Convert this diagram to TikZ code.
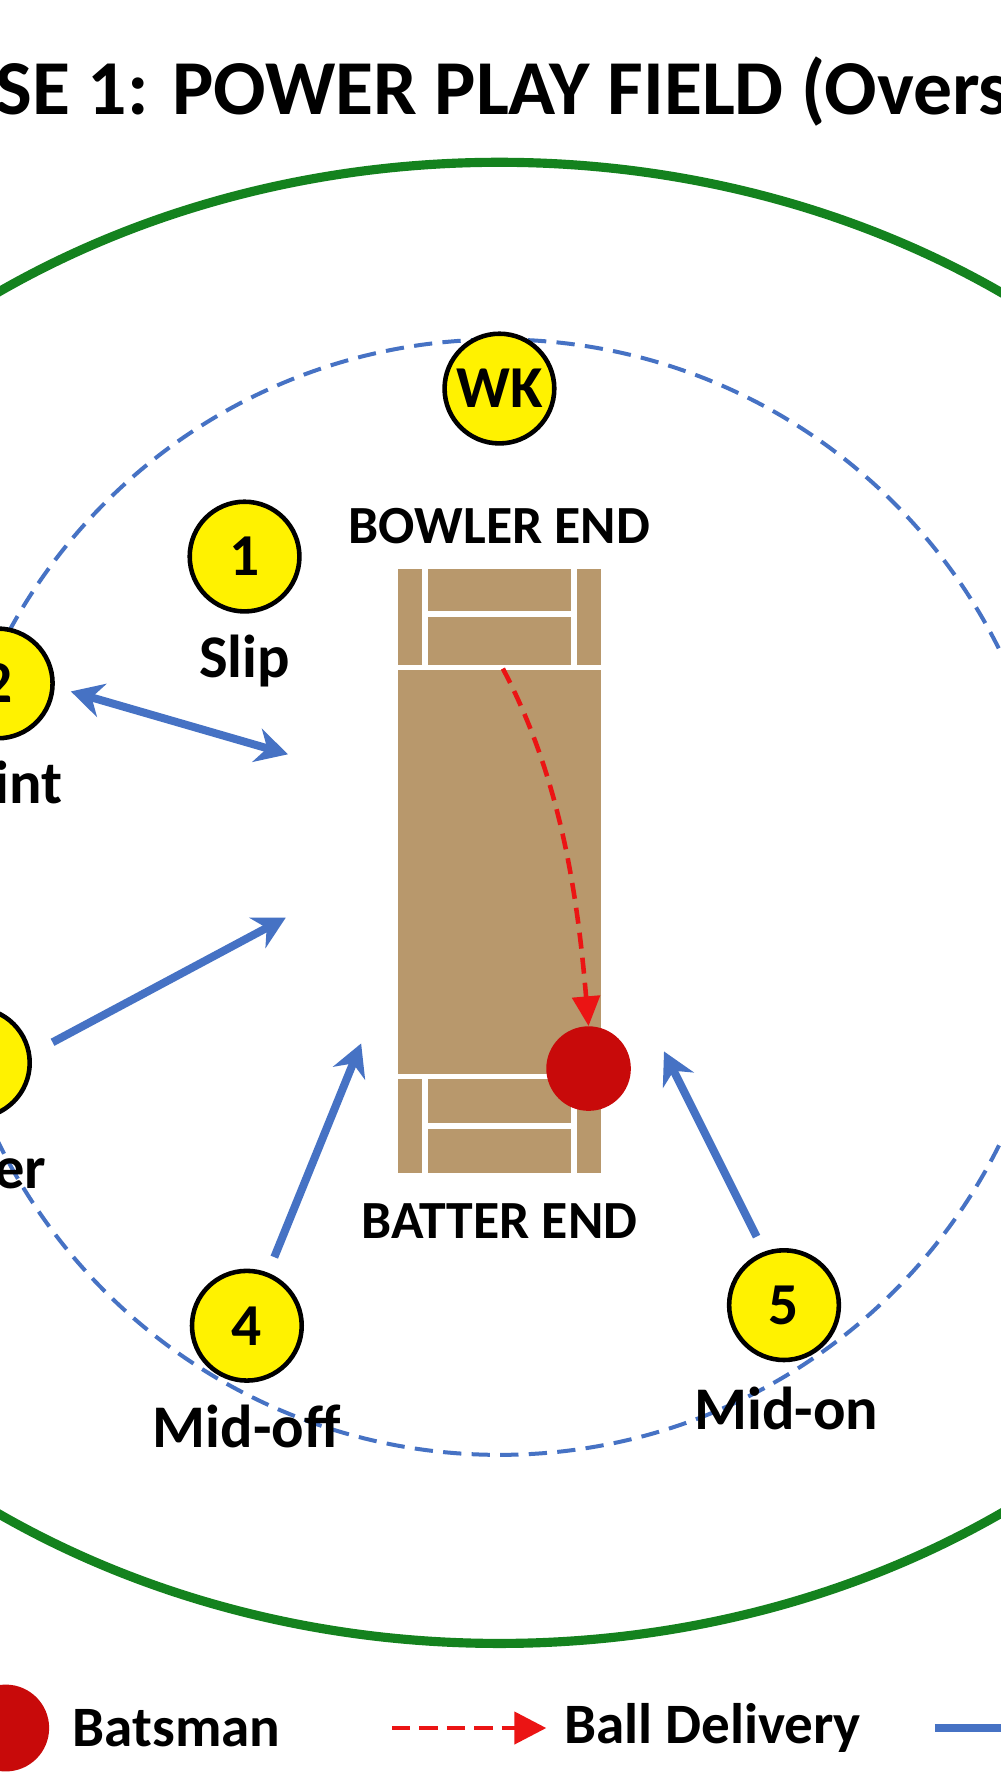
\documentclass[tikz,border=0pt]{standalone}
\usepackage{fontspec}
\setmainfont{Carlito}
\usetikzlibrary{arrows.meta}
\definecolor{fgreen}{RGB}{20,130,30}
\definecolor{fblue}{RGB}{70,114,196}
\definecolor{pitch}{RGB}{184,152,108}
\definecolor{bred}{RGB}{200,10,10}
\definecolor{dred}{RGB}{235,20,20}
\begin{document}
\begin{tikzpicture}[x=1pt,y=-1pt,
  fielder/.style={circle,draw=black,line width=4pt,fill=yellow,minimum size=96pt,inner sep=0pt,font=\fontsize{52}{52}\selectfont\bfseries},
  flabel/.style={font=\fontsize{53}{53}\selectfont\bfseries},
  move/.style={draw=fblue,line width=7pt,-{Stealth[length=28pt,width=30pt]}},
  crease/.style={draw=white,line width=5pt}]
\useasboundingbox (0,0) rectangle (875,1568);
\fill[white] (0,0) rectangle (875,1568);
% title
\node[anchor=base west,inner sep=0pt,font=\fontsize{68}{68}\selectfont\bfseries] (t1) at (-4,100) {SE 1: POWER PLAY FIELD (Overs 1-6)};
\node[anchor=base east,inner sep=0pt,font=\fontsize{68}{68}\selectfont\bfseries] (t0) at (t1.base west) {PHA};
% boundary
\draw[fgreen,line width=8pt] (437,790) ellipse [x radius=775,y radius=648];
\draw[fblue,line width=3.5pt,dash pattern=on 16pt off 9pt] (437,785) circle [radius=488];
% pitch
\fill[pitch] (348,498) rectangle (526,1026);
\draw[crease] (348,584) -- (526,584);
\draw[crease] (372,498) -- (372,584) (502,498) -- (502,584) (372,537) -- (502,537);
\draw[crease] (348,942) -- (526,942);
\draw[crease] (372,942) -- (372,1026) (502,942) -- (502,1026) (372,985) -- (502,985);
\node[font=\fontsize{47}{47}\selectfont\bfseries] (be) at (437,460) {BOWLER END};
\node[font=\fontsize{47}{47}\selectfont\bfseries] (bt) at (437,1068) {BATTER END};
% batsman
\node[circle,fill=bred,minimum size=74pt,inner sep=0pt] (bat) at (515,935) {};
\coordinate (rel) at (440,585);
\draw[dred,line width=4pt,dash pattern=on 14pt off 8pt,-{Triangle[length=26pt,width=24pt]}] (rel) .. controls (490,680) and (505,780) .. (bat.north);
% fielders
\node[fielder] (wk) at (437,340) {WK};
\node[fielder] (f1) at (214,487) {1};
\node[flabel] (l1) at (214,578) {Slip};
\node[fielder] (f2) at (-2,598) {2};
\node[flabel,anchor=base east] (l2) at (58,703) {Point};
\node[fielder] (f3) at (-22,930) {3};
\node[flabel,anchor=base east] (l3) at (44,1040) {Cover};
\node[fielder] (f4) at (216,1160) {4};
\node[flabel] (l4) at (216,1248) {Mid-off};
\node[fielder] (f5) at (686,1142) {5};
\node[flabel] (l5) at (688,1232) {Mid-on};
% movement arrows
\coordinate (a2) at (252,660);
\coordinate (a3) at (250,803);
\coordinate (a4) at (316,913);
\coordinate (a5) at (581,920);
\draw[move,{Stealth[length=28pt,width=30pt]}-{Stealth[length=28pt,width=30pt]}] (62,605) -- (a2);
\draw[move] (f3.east) ++(18,-18) -- (a3);
\draw[move] (f4.north) ++(24,-10) -- (a4);
\draw[move] (f5.north) ++(-24,-10) -- (a5);
% legend
\node[circle,fill=bred,minimum size=76pt,inner sep=0pt] (lb) at (5,1512) {};
\node[flabel,anchor=west,font=\fontsize{50}{50}\selectfont\bfseries] (lbt) at (60,1512) {Batsman};
\coordinate (ld1) at (343,1512);
\coordinate (ld2) at (478,1512);
\draw[dred,line width=4pt,dash pattern=on 16pt off 8pt,-{Triangle[length=28pt,width=28pt]}] (ld1) -- (ld2);
\node[flabel,anchor=west,font=\fontsize{50}{50}\selectfont\bfseries] (ldt) at (490,1512) {Ball Delivery};
\coordinate (lm1) at (818,1512);
\coordinate (lm2) at (900,1512);
\draw[fblue,line width=7pt] (lm1) -- (lm2);
\end{tikzpicture}
\end{document}
